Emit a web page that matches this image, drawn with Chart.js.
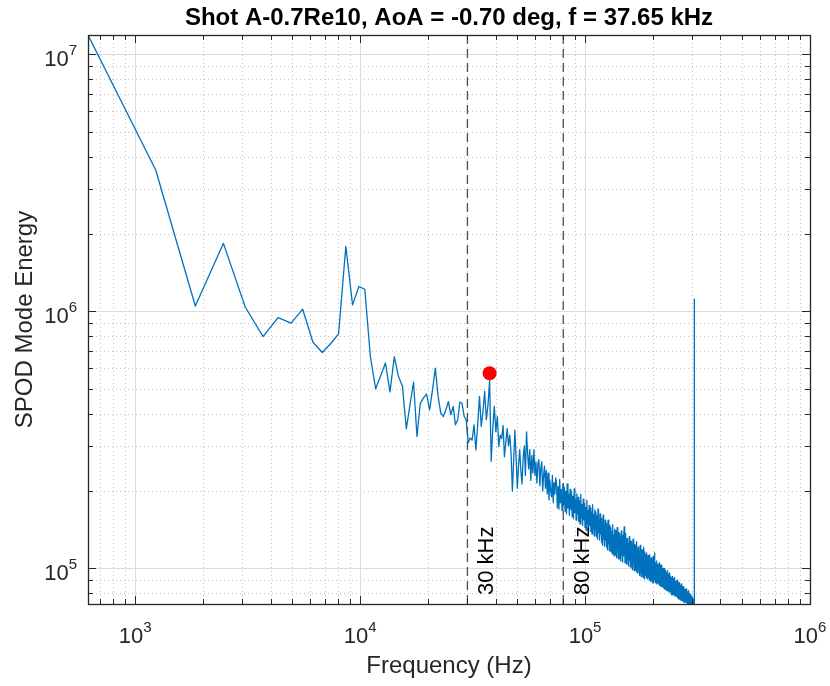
<!DOCTYPE html>
<html>
<head>
<meta charset="utf-8">
<script src="https://cdn.jsdelivr.net/npm/chart.js@4.4.1/dist/chart.umd.min.js"></script>
<style>
    body { margin: 0; background: #fff; }
    canvas { display: block; }
</style>
</head>
<body>
<canvas id="spodChart" width="830" height="686"></canvas>
<script>
const plotTitle = 'Shot A-0.7Re10, AoA = -0.70 deg, f = 37.65 kHz';
const xLabel = 'Frequency (Hz)';
const yLabel = 'SPOD Mode Energy';

// frequency bin width of the spectrum (Hz), bin k sits at k * binWidth
const binWidth = 617.2;

// SPOD mode energy per bin
const energy = [
    1.19e7, 3.55e6, 1.05e6, 1.84e6, 1.04e6, 7.98e5, 9.46e5, 9.0e5, 1.02e6, 7.59e5,
    6.92e5, 7.5e5, 8.18e5, 1.79e6, 1.06e6, 1.25e6, 1.22e6, 6.67e5, 5.0e5, 5.62e5,
    6.3e5, 4.86e5, 6.67e5, 5.58e5, 5.11e5, 3.49e5, 4.33e5, 5.31e5, 3.26e5, 4.39e5,
    4.61e5, 4.77e5, 4.14e5, 4.95e5, 6.01e5, 4.67e5, 4.02e5, 3.9e5, 4.14e5, 4.46e5,
    3.96e5, 4.27e5, 3.62e5, 3.79e5, 4.44e5, 4.39e5, 3.9e5, 3.79e5, 3.08e5, 3.22e5,
    3.16e5, 3.62e5, 2.89e5, 3.62e5, 4.67e5, 3.57e5, 4.08e5, 4.88e5, 3.79e5, 4.33e5,
    5.4e5, 2.61e5, 3.5e5, 4.27e5, 3.4e5, 3.9e5, 2.98e5, 3.3e5, 3.2e5, 3.6e5,
    2.72e5, 3.1e5, 3.5e5, 3.0e5, 3.3e5, 2.8e5, 2.0e5, 2.6e5, 3.45e5, 2.7e5,
    2.05e5, 2.5e5, 2.9e5, 2.4e5, 2.13e5, 2.7e5, 3.0e5, 2.3e5, 3.4e5, 2.8e5,
    2.44e5, 2.9e5, 2.2e5, 2.75e5, 2.35e5, 2.9e5, 2.3e5, 2.6e5, 2.15e5, 2.55e5,
    2.65e5, 2.1e5, 2.45e5, 2.6e5, 2.0e5, 2.3e5, 2.5e5, 2.05e5, 2.4e5, 1.95e5,
    2.35e5, 1.85e5, 2.2e5, 2.0e5, 1.9e5, 2.3e5, 1.8e5, 2.15e5, 1.95e5, 2.25e5,
    2.15e5, 1.72e5, 2.08e5, 1.7e5, 2.22e5, 1.8e5, 2.03e5, 1.68e5, 2.12e5, 1.78e5,
    2.07e5, 1.67e5, 2.0e5, 1.63e5, 2.13e5, 1.72e5, 1.94e5, 1.61e5, 2.03e5, 1.7e5,
    1.98e5, 1.59e5, 1.91e5, 1.56e5, 2.04e5, 1.65e5, 1.86e5, 1.54e5, 1.95e5, 1.63e5,
    1.89e5, 1.52e5, 1.83e5, 1.49e5, 1.94e5, 1.57e5, 1.77e5, 1.47e5, 1.86e5, 1.55e5,
    1.79e5, 1.44e5, 1.73e5, 1.41e5, 1.84e5, 1.49e5, 1.68e5, 1.39e5, 1.76e5, 1.47e5,
    1.72e5, 1.39e5, 1.66e5, 1.36e5, 1.77e5, 1.43e5, 1.62e5, 1.34e5, 1.69e5, 1.42e5,
    1.66e5, 1.33e5, 1.6e5, 1.3e5, 1.7e5, 1.38e5, 1.55e5, 1.29e5, 1.63e5, 1.36e5,
    1.57e5, 1.26e5, 1.51e5, 1.23e5, 1.61e5, 1.3e5, 1.47e5, 1.22e5, 1.54e5, 1.29e5,
    1.5e5, 1.21e5, 1.45e5, 1.18e5, 1.54e5, 1.25e5, 1.41e5, 1.17e5, 1.47e5, 1.23e5,
    1.44e5, 1.16e5, 1.39e5, 1.14e5, 1.48e5, 1.2e5, 1.35e5, 1.12e5, 1.42e5, 1.19e5,
    1.4e5, 1.13e5, 1.35e5, 1.1e5, 1.44e5, 1.16e5, 1.31e5, 1.09e5, 1.38e5, 1.15e5,
    1.37e5, 1.1e5, 1.32e5, 1.07e5, 1.4e5, 1.13e5, 1.28e5, 1.06e5, 1.34e5, 1.12e5,
    1.33e5, 1.45e5, 1.29e5, 1.05e5, 1.37e5, 1.11e5, 1.25e5, 1.04e5, 1.31e5, 1.09e5,
    1.3e5, 1.04e5, 1.25e5, 1.02e5, 1.33e5, 1.08e5, 1.22e5, 1.01e5, 1.28e5, 1.07e5,
    1.27e5, 1.02e5, 1.22e5, 9.9e4, 1.3e5, 1.05e5, 1.19e5, 9.8e4, 1.24e5, 1.04e5,
    1.23e5, 9.9e4, 1.19e5, 9.7e4, 1.27e5, 1.02e5, 1.16e5, 9.6e4, 1.21e5, 1.01e5,
    1.2e5, 9.6e4, 1.16e5, 9.4e4, 1.23e5, 1.0e5, 1.12e5, 9.3e4, 1.18e5, 9.8e4,
    1.18e5, 9.5e4, 1.13e5, 9.2e4, 1.21e5, 9.8e4, 1.1e5, 9.1e4, 1.16e5, 9.7e4,
    1.13e5, 9.4e4, 1.1e5, 9.2e4, 1.15e5, 9.6e4, 1.07e5, 9.1e4, 1.12e5, 9.5e4,
    1.11e5, 9.2e4, 1.08e5, 9.0e4, 1.13e5, 9.4e4, 1.05e5, 8.9e4, 1.1e5, 9.3e4,
    1.09e5, 9.0e4, 1.06e5, 8.8e4, 1.11e5, 9.2e4, 1.03e5, 8.8e4, 1.08e5, 1.15e5,
    9.0e4, 1.05e5, 8.8e4, 1.03e5, 9.1e4, 1.07e5, 8.7e4, 1.01e5, 9.0e4, 1.04e5,
    8.8e4, 1.03e5, 8.7e4, 1.02e5, 9.0e4, 1.05e5, 8.6e4, 1.0e5, 8.9e4, 1.03e5,
    8.6e4, 1.01e5, 8.5e4, 1.0e5, 8.8e4, 1.03e5, 8.5e4, 9.8e4, 8.7e4, 1.0e5,
    8.5e4, 9.8e4, 8.4e4, 9.7e4, 8.6e4, 1.0e5, 8.3e4, 9.6e4, 8.5e4, 9.8e4,
    8.3e4, 9.6e4, 8.2e4, 9.5e4, 8.4e4, 9.8e4, 8.2e4, 9.4e4, 8.4e4, 9.5e4,
    8.2e4, 9.4e4, 8.1e4, 9.3e4, 8.3e4, 9.6e4, 8.1e4, 9.2e4, 8.2e4, 9.3e4,
    8.0e4, 9.2e4, 7.9e4, 9.1e4, 8.1e4, 9.3e4, 7.9e4, 9.0e4, 8.1e4, 9.1e4,
    7.9e4, 9.0e4, 7.9e4, 8.9e4, 8.0e4, 9.2e4, 7.8e4, 8.9e4, 8.0e4, 8.9e4,
    7.8e4, 8.9e4, 7.8e4, 8.8e4, 7.9e4, 9.0e4, 7.7e4, 8.7e4, 7.9e4, 8.8e4,
    7.7e4, 8.7e4, 7.6e4, 8.6e4, 7.8e4, 8.8e4, 7.6e4, 8.5e4, 7.7e4, 8.6e4,
    7.6e4, 8.6e4, 7.5e4, 8.5e4, 7.7e4, 8.7e4, 7.5e4, 8.4e4, 7.6e4, 8.5e4,
    7.5e4, 8.4e4, 7.4e4, 8.3e4, 7.6e4, 8.5e4, 7.4e4, 8.2e4, 7.5e4, 8.3e4,
    7.4e4, 8.3e4, 7.4e4, 8.2e4, 7.5e4, 8.3e4, 7.35e4, 8.1e4, 7.4e4, 8.1e4,
    7.35e4, 8.1e4, 7.3e4, 8.0e4, 7.4e4, 8.2e4, 7.3e4, 7.9e4, 7.35e4, 8.0e4,
    7.3e4, 7.9e4, 7.3e4, 7.8e4, 7.35e4, 7.9e4, 7.3e4, 7.7e4, 7.3e4, 7.8e4,
    7.3e4, 7.7e4, 7.28e4, 7.6e4, 7.3e4, 7.7e4, 7.28e4, 7.5e4, 7.3e4, 7.55e4,
    7.28e4, 7.45e4, 7.27e4, 7.4e4, 7.27e4, 1.12e6
];

// selected peak (red dot)
const peakFreq = [37650];
const peakEnergy = [5.75e5];

// band limits (dashed lines)
const bandFreqs = [30000, 80000];
const bandLabels = ['30 kHz', '80 kHz'];

// axis limits and labelled decades
const xLimits = [617.2, 1e6];
const yLimits = [7.27e4, 1.19e7];
const xDecades = [3, 4, 5, 6];
const yDecades = [5, 6, 7];

const spectrum = energy.map((e, i) => ({ x: (i + 1) * binWidth, y: e }));
const peak = peakFreq.map((f, i) => ({ x: f, y: peakEnergy[i] }));

const font = "'Liberation Sans', Arial, Helvetica, sans-serif";
const ink = '#262626';

// 1..9 x 10^n values inside a range
function logTicks(lo, hi) {
    const out = [];
    for (let e = Math.floor(Math.log10(lo)); e <= Math.ceil(Math.log10(hi)); e++) {
        for (let m = 1; m <= 9; m++) {
            const v = m * Math.pow(10, e);
            if (v >= lo * 0.9999 && v <= hi * 1.0001) out.push({ v: v, major: m === 1 });
        }
    }
    return out;
}

function powLabel(ctx, exp, x, y, align) {
    ctx.font = '22px ' + font;
    const wb = ctx.measureText('10').width;
    ctx.font = '15px ' + font;
    const we = ctx.measureText(String(exp)).width;
    let left = x;
    if (align === 'center') left = x - (wb + we) / 2;
    if (align === 'right') left = x - (wb + we);
    ctx.textAlign = 'left';
    ctx.textBaseline = 'alphabetic';
    ctx.font = '22px ' + font;
    ctx.fillText('10', left, y);
    ctx.font = '15px ' + font;
    ctx.fillText(String(exp), left + wb, y - 11);
}

const axesBox = {
    id: 'axesBox',
    beforeDatasetsDraw(chart) {
        const { ctx, chartArea: a, scales } = chart;
        const xs = scales.x, ys = scales.y;
        ctx.save();
        ctx.lineWidth = 1;
        // minor grid, dotted
        ctx.strokeStyle = '#c4c4c4';
        ctx.setLineDash([1, 3]);
        logTicks(xLimits[0], xLimits[1]).filter(t => !t.major).forEach(t => {
            const px = Math.round(xs.getPixelForValue(t.v)) + 0.5;
            ctx.beginPath(); ctx.moveTo(px, a.top); ctx.lineTo(px, a.bottom); ctx.stroke();
        });
        logTicks(yLimits[0], yLimits[1]).filter(t => !t.major).forEach(t => {
            const py = Math.round(ys.getPixelForValue(t.v)) + 0.5;
            ctx.beginPath(); ctx.moveTo(a.left, py); ctx.lineTo(a.right, py); ctx.stroke();
        });
        // major grid
        ctx.setLineDash([]);
        ctx.strokeStyle = '#dcdcdc';
        logTicks(xLimits[0], xLimits[1]).filter(t => t.major).forEach(t => {
            const px = Math.round(xs.getPixelForValue(t.v)) + 0.5;
            ctx.beginPath(); ctx.moveTo(px, a.top); ctx.lineTo(px, a.bottom); ctx.stroke();
        });
        logTicks(yLimits[0], yLimits[1]).filter(t => t.major).forEach(t => {
            const py = Math.round(ys.getPixelForValue(t.v)) + 0.5;
            ctx.beginPath(); ctx.moveTo(a.left, py); ctx.lineTo(a.right, py); ctx.stroke();
        });
        ctx.restore();
    },
    afterDatasetsDraw(chart) {
        const { ctx, chartArea: a, scales } = chart;
        const xs = scales.x, ys = scales.y;
        ctx.save();
        ctx.fillStyle = '#000';

        // band labels, rotated
        ctx.font = '22px ' + font;
        bandFreqs.forEach((f, i) => {
            const px = xs.getPixelForValue(f);
            ctx.save();
            ctx.translate(px + 26, a.bottom - 9);
            ctx.rotate(-Math.PI / 2);
            ctx.textAlign = 'left';
            ctx.textBaseline = 'alphabetic';
            ctx.fillText(bandLabels[i], 0, 0);
            ctx.restore();
        });

        // box and inward ticks
        ctx.strokeStyle = ink;
        ctx.lineWidth = 1.3;
        ctx.strokeRect(a.left + 0.5, a.top + 0.5, a.right - a.left, a.bottom - a.top);
        ctx.lineWidth = 1;
        logTicks(xLimits[0], xLimits[1]).forEach(t => {
            const px = Math.round(xs.getPixelForValue(t.v)) + 0.5;
            const len = t.major ? 8 : 5;
            ctx.beginPath();
            ctx.moveTo(px, a.bottom); ctx.lineTo(px, a.bottom - len);
            ctx.moveTo(px, a.top); ctx.lineTo(px, a.top + len);
            ctx.stroke();
        });
        logTicks(yLimits[0], yLimits[1]).forEach(t => {
            const py = Math.round(ys.getPixelForValue(t.v)) + 0.5;
            const len = t.major ? 8 : 5;
            ctx.beginPath();
            ctx.moveTo(a.left, py); ctx.lineTo(a.left + len, py);
            ctx.moveTo(a.right, py); ctx.lineTo(a.right - len, py);
            ctx.stroke();
        });

        // tick labels
        ctx.fillStyle = ink;
        xDecades.forEach(e => {
            powLabel(ctx, e, xs.getPixelForValue(Math.pow(10, e)), a.bottom + 39, 'center');
        });
        yDecades.forEach(e => {
            powLabel(ctx, e, a.left - 11, ys.getPixelForValue(Math.pow(10, e)) + 12, 'right');
        });

        // axis titles
        ctx.font = '24px ' + font;
        ctx.textAlign = 'center';
        ctx.textBaseline = 'alphabetic';
        ctx.fillText(xLabel, (a.left + a.right) / 2, 673);
        ctx.save();
        ctx.translate(32, (a.top + a.bottom) / 2);
        ctx.rotate(-Math.PI / 2);
        ctx.fillText(yLabel, 0, 0);
        ctx.restore();

        // title
        ctx.fillStyle = '#000';
        ctx.font = 'bold 24px ' + font;
        ctx.fillText(plotTitle, (a.left + a.right) / 2, 25);
        ctx.restore();
    }
};

const ctx = document.getElementById('spodChart');
const spodChart = new Chart(ctx, {
    type: 'line',
    data: {
        datasets: [{
            data: peak,
            showLine: false,
            pointRadius: 7,
            pointBackgroundColor: '#ff0000',
            pointBorderColor: '#ff0000',
            pointBorderWidth: 0
        }, {
            data: spectrum,
            borderColor: '#0072BD',
            borderWidth: 1.3,
            borderJoinStyle: 'round',
            pointRadius: 0,
            tension: 0
        }].concat(bandFreqs.map(f => ({
            data: [{ x: f, y: yLimits[0] }, { x: f, y: yLimits[1] }],
            borderColor: '#4d4d4d',
            borderWidth: 1.3,
            borderDash: [9, 5],
            pointRadius: 0
        })))
    },
    options: {
        responsive: false,
        animation: false,
        events: [],
        layout: {
            padding: { left: 88, top: 35, right: 20, bottom: 82 }
        },
        plugins: {
            legend: { display: false },
            title: { display: false },
            tooltip: { enabled: false }
        },
        scales: {
            x: {
                type: 'logarithmic',
                min: xLimits[0],
                max: xLimits[1],
                display: false
            },
            y: {
                type: 'logarithmic',
                min: yLimits[0],
                max: yLimits[1],
                display: false
            }
        }
    },
    plugins: [axesBox]
});
</script>
</body>
</html>
